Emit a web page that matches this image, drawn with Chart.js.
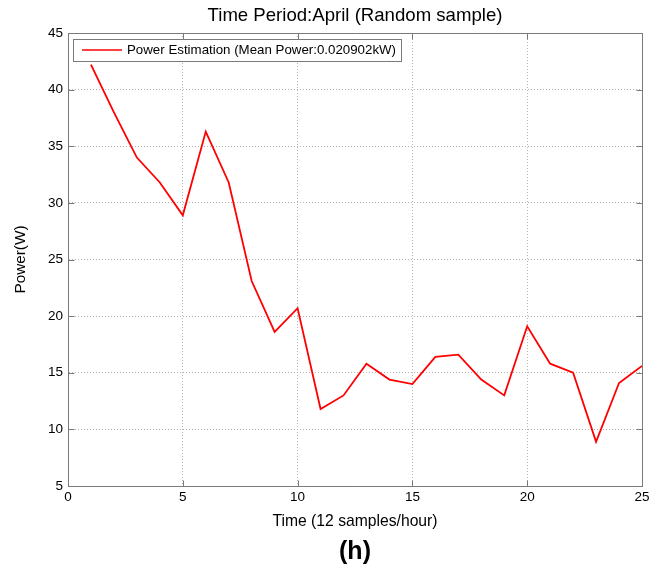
<!DOCTYPE html>
<html>
<head>
<meta charset="utf-8">
<title>Power Estimation - April</title>
<script src="https://cdn.jsdelivr.net/npm/chart.js@4.4.0/dist/chart.umd.min.js"></script>
<style>
  body { margin: 0; background: #fff; }
</style>
</head>
<body>
<canvas id="potencia" width="658" height="571"></canvas>
<script>
const samples = [1, 2, 3, 4, 5, 6, 7, 8, 9, 10, 11, 12, 13, 14, 15, 16, 17, 18, 19, 20, 21, 22, 23, 24, 25];
const power = [42.2, 38.0, 34.0, 31.8, 28.9, 36.3, 31.8, 23.1, 18.6, 20.7, 11.8, 13.0, 15.8, 14.4, 14.0, 16.4, 16.6, 14.4, 13.0, 19.1, 15.8, 15.0, 8.9, 14.1, 15.6];
const xTicks = [0, 5, 10, 15, 20, 25];
const yTicks = [5, 10, 15, 20, 25, 30, 35, 40, 45];
const seriesLabel = 'Power Estimation (Mean Power:0.020902kW)';

Chart.defaults.font.family = '"Liberation Sans", Arial, sans-serif';
Chart.defaults.color = '#000';

const axisGray = '#7a7a7a';

// matlab style box: frame on all four sides, inward ticks, legend inside the axes
const matlabBox = {
    id: 'matlabBox',
    beforeDraw(chart) {
        const ctx = chart.ctx;
        ctx.save();
        ctx.fillStyle = '#fff';
        ctx.fillRect(0, 0, chart.width, chart.height);
        ctx.restore();
    },
    afterDraw(chart) {
        const { ctx, chartArea: a, scales: { x, y } } = chart;
        ctx.save();

        // legend
        ctx.font = '13.3px "Liberation Sans", Arial, sans-serif';
        const textW = ctx.measureText(seriesLabel).width;
        const lx = a.left + 5, ly = a.top + 6;
        const lw = 54 + textW + 5, lh = 22;
        ctx.fillStyle = '#fff';
        ctx.fillRect(lx, ly, lw, lh);
        ctx.strokeStyle = axisGray;
        ctx.lineWidth = 1;
        ctx.strokeRect(Math.round(lx) + 0.5, Math.round(ly) + 0.5, Math.round(lw), lh);
        ctx.strokeStyle = chart.data.datasets[0].borderColor;
        ctx.lineWidth = 1.5;
        ctx.beginPath();
        ctx.moveTo(lx + 9, ly + 11);
        ctx.lineTo(lx + 49, ly + 11);
        ctx.stroke();
        ctx.fillStyle = '#000';
        ctx.textBaseline = 'middle';
        ctx.fillText(seriesLabel, lx + 54, ly + 11.5);

        // frame and tick marks
        ctx.strokeStyle = axisGray;
        ctx.lineWidth = 1;
        const l = Math.round(a.left) + 0.5, r = Math.round(a.right) + 0.5;
        const t = Math.round(a.top) + 0.5, b = Math.round(a.bottom) + 0.5;
        ctx.beginPath();
        ctx.rect(l, t, r - l, b - t);
        xTicks.forEach(v => {
            const px = Math.round(x.getPixelForValue(v)) + 0.5;
            ctx.moveTo(px, b); ctx.lineTo(px, b - 6);
            ctx.moveTo(px, t); ctx.lineTo(px, t + 6);
        });
        yTicks.forEach(v => {
            const py = Math.round(y.getPixelForValue(v)) + 0.5;
            ctx.moveTo(l, py); ctx.lineTo(l + 6, py);
            ctx.moveTo(r, py); ctx.lineTo(r - 6, py);
        });
        ctx.stroke();
        ctx.restore();
    }
};

const gridOpts = {
    color: '#b4b4b4',
    lineWidth: 1,
    drawTicks: false,
    borderDash: [1, 2]
};

new Chart('potencia', {
    type: 'line',
    data: {
        datasets: [{
            label: seriesLabel,
            data: samples.map((s, i) => ({ x: s, y: power[i] })),
            borderColor: '#ff0000',
            borderWidth: 1.8,
            pointRadius: 0,
            tension: 0,
            fill: false
        }]
    },
    options: {
        responsive: false,
        animation: false,
        devicePixelRatio: 1,
        layout: { padding: { left: 0, right: 16, top: 0, bottom: 0 } },
        plugins: {
            legend: { display: false },
            tooltip: { enabled: false },
            title: {
                display: true,
                text: 'Time Period:April (Random sample)',
                fullSize: false,
                font: { size: 18.6, weight: 'normal' },
                padding: { top: 5, bottom: 5.7 }
            },
            subtitle: {
                display: true,
                text: '(h)',
                position: 'bottom',
                fullSize: false,
                font: { size: 25, weight: 'bold' },
                padding: { top: 6, bottom: 4 }
            }
        },
        scales: {
            x: {
                type: 'linear',
                min: 0,
                max: 25,
                afterBuildTicks: scale => { scale.ticks = xTicks.map(v => ({ value: v })); },
                afterFit: scale => { scale.height = 45; },
                ticks: { font: { size: 13.5 }, padding: 3, maxRotation: 0 },
                grid: gridOpts,
                border: { display: true, color: axisGray, dash: [1, 2] },
                title: {
                    display: true,
                    text: 'Time (12 samples/hour)',
                    font: { size: 15.7 },
                    padding: { top: 0, bottom: 0 }
                }
            },
            y: {
                min: 5,
                max: 45,
                afterBuildTicks: scale => { scale.ticks = yTicks.map(v => ({ value: v })); },
                afterFit: scale => { scale.width = 68; },
                ticks: { font: { size: 13.5 }, padding: 5 },
                grid: gridOpts,
                border: { display: true, color: axisGray, dash: [1, 2] },
                title: {
                    display: true,
                    text: 'Power(W)',
                    font: { size: 15.3 },
                    padding: { top: 12, bottom: 0 }
                }
            }
        }
    },
    plugins: [matlabBox]
});
</script>
</body>
</html>
